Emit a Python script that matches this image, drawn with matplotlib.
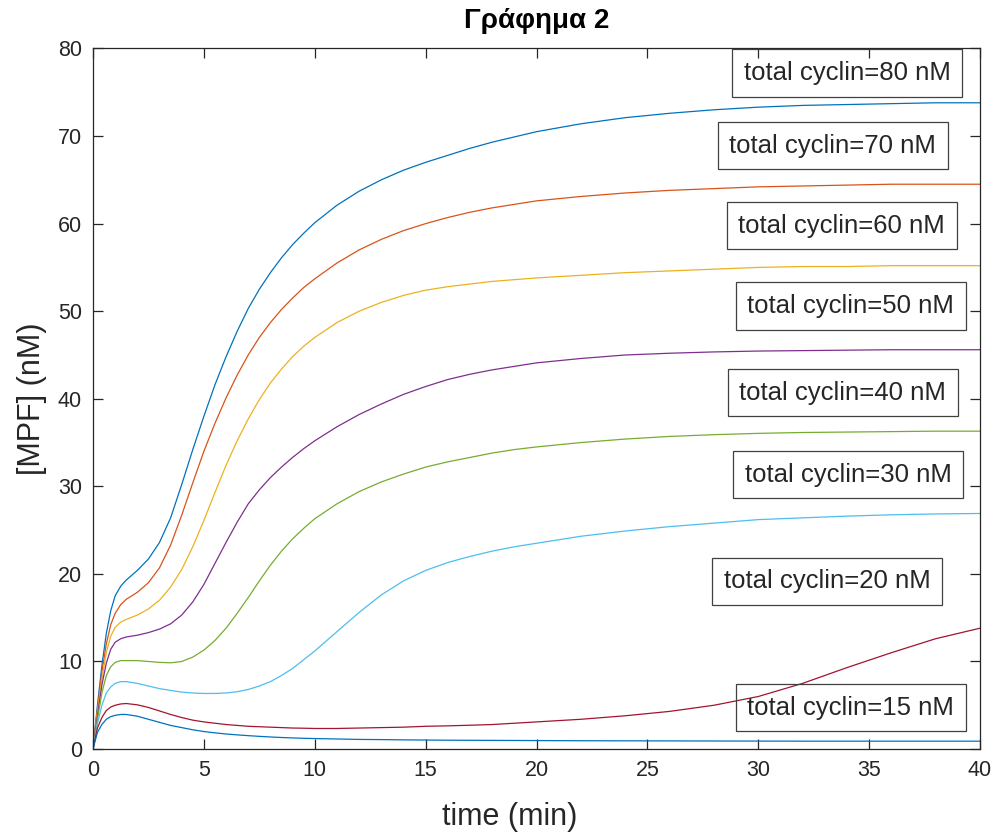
import numpy as np
import matplotlib
matplotlib.use('Agg')
import matplotlib.pyplot as plt

# time axis (min)
t = [0, 0.2, 0.4, 0.6, 0.8, 1.0, 1.25, 1.5, 2, 2.5, 3, 3.5, 4, 4.5, 5, 5.5, 6, 6.5, 7, 7.5,
     8, 8.5, 9, 9.5, 10, 11, 12, 13, 14, 15, 16, 17, 18, 19, 20,
     22, 24, 26, 28, 30, 32, 34, 36, 38, 40]

# [MPF] (nM) for each total cyclin level
mpf_80 = [0, 5.0, 9.5, 13.2, 15.8, 17.5, 18.6, 19.3, 20.4, 21.7, 23.6, 26.4, 30.2, 34.2, 38.0,
          41.6, 44.8, 47.7, 50.3, 52.5, 54.4, 56.1, 57.6, 58.9, 60.1,
          62.1, 63.7, 65.0, 66.1, 67.0, 67.8, 68.6, 69.3, 69.9, 70.5,
          71.4, 72.1, 72.6, 73.0, 73.3, 73.5, 73.6, 73.7, 73.8, 73.8]
mpf_70 = [0, 4.6, 8.8, 12.0, 14.2, 15.5, 16.5, 17.1, 17.9, 19.0, 20.7, 23.3, 26.7, 30.4, 34.0,
          37.2, 40.1, 42.7, 45.0, 47.0, 48.7, 50.2, 51.5, 52.7, 53.7,
          55.5, 57.0, 58.2, 59.2, 60.0, 60.7, 61.3, 61.8, 62.2, 62.6,
          63.1, 63.5, 63.8, 64.0, 64.2, 64.3, 64.4, 64.5, 64.5, 64.5]
mpf_60 = [0, 4.2, 8.0, 11.0, 12.9, 13.9, 14.5, 14.8, 15.3, 16.0, 17.0, 18.5, 20.5, 23.1, 26.1,
          29.3, 32.4, 35.2, 37.7, 39.9, 41.8, 43.4, 44.8, 46.0, 47.0,
          48.7, 50.0, 51.0, 51.8, 52.4, 52.8, 53.1, 53.4, 53.6, 53.8,
          54.1, 54.4, 54.6, 54.8, 55.0, 55.1, 55.1, 55.2, 55.2, 55.2]
mpf_50 = [0, 3.8, 7.3, 9.8, 11.4, 12.2, 12.6, 12.8, 13.0, 13.3, 13.7, 14.3, 15.3, 16.8, 18.8,
          21.2, 23.6, 25.9, 28.0, 29.6, 31.0, 32.2, 33.3, 34.3, 35.2,
          36.8, 38.2, 39.4, 40.5, 41.4, 42.2, 42.8, 43.3, 43.7, 44.1,
          44.6, 45.0, 45.2, 45.35, 45.45, 45.5, 45.55, 45.6, 45.6, 45.6]
mpf_40 = [0, 3.4, 6.4, 8.4, 9.4, 9.9, 10.1, 10.1, 10.1, 10.0, 9.9, 9.85, 10.0, 10.5, 11.3,
          12.4, 13.8, 15.5, 17.3, 19.2, 21.0, 22.6, 24.0, 25.2, 26.3,
          28.0, 29.4, 30.5, 31.4, 32.2, 32.8, 33.3, 33.8, 34.2, 34.5,
          35.0, 35.4, 35.7, 35.9, 36.05, 36.15, 36.2, 36.25, 36.3, 36.3]
mpf_30 = [0, 2.9, 5.0, 6.4, 7.1, 7.5, 7.7, 7.7, 7.5, 7.2, 6.9, 6.7, 6.5, 6.4, 6.35,
          6.35, 6.4, 6.55, 6.8, 7.2, 7.7, 8.4, 9.2, 10.2, 11.2,
          13.4, 15.6, 17.6, 19.2, 20.4, 21.3, 22.0, 22.6, 23.1, 23.5,
          24.3, 24.9, 25.4, 25.8, 26.2, 26.4, 26.6, 26.75, 26.85, 26.9]
mpf_20 = [0, 2.4, 3.6, 4.4, 4.8, 5.0, 5.15, 5.2, 5.05, 4.75, 4.35, 3.95, 3.6, 3.3, 3.1,
          2.95, 2.8, 2.7, 2.6, 2.55, 2.5, 2.45, 2.4, 2.38, 2.35,
          2.35, 2.4, 2.45, 2.5, 2.6, 2.65, 2.72, 2.8, 2.95, 3.1,
          3.4, 3.8, 4.3, 5.0, 6.0, 7.5, 9.3, 11.0, 12.6, 13.8]
mpf_15 = [0, 1.9, 2.8, 3.4, 3.7, 3.85, 3.95, 3.95, 3.75, 3.4, 3.05, 2.7, 2.45, 2.2, 2.0,
          1.85, 1.72, 1.62, 1.53, 1.45, 1.38, 1.32, 1.27, 1.23, 1.2,
          1.15, 1.1, 1.08, 1.05, 1.03, 1.01, 1.0, 0.99, 0.98, 0.97,
          0.95, 0.94, 0.93, 0.92, 0.91, 0.9, 0.9, 0.9, 0.9, 0.9]

curves = [mpf_80, mpf_70, mpf_60, mpf_50, mpf_40, mpf_30, mpf_20, mpf_15]
labels = ['total cyclin=80 nM', 'total cyclin=70 nM', 'total cyclin=60 nM',
          'total cyclin=50 nM', 'total cyclin=40 nM', 'total cyclin=30 nM',
          'total cyclin=20 nM', 'total cyclin=15 nM']

# where the text boxes sit (data coords: left edge / middle of the text)
label_x = [29.35, 28.7, 29.1, 29.5, 29.15, 29.4, 28.45, 29.5]
label_y = [77.2, 68.9, 59.75, 50.6, 40.7, 31.35, 19.15, 4.7]

colors = ['#0072BD', '#D95319', '#EDB120', '#7E2F8E', '#77AC30', '#4DBEEE', '#A2142F', '#0072BD']

plt.rcParams['font.family'] = ['Liberation Sans', 'DejaVu Sans']

fig = plt.figure(figsize=(10, 8.36), dpi=100)
ax = fig.add_axes([0.093, 0.104, 0.887, 0.838])

for y, c in zip(curves, colors):
    assert len(y) == len(t)
    ax.plot(t, y, color=c, linewidth=0.9)

for txt, x, y in zip(labels, label_x, label_y):
    ax.text(x, y, txt, fontsize=18.5, ha='left', va='center', color='#262626',
            bbox=dict(boxstyle='square,pad=0.45', facecolor='none', edgecolor='#404040', linewidth=0.9))

ax.set_xlim(0, 40)
ax.set_ylim(0, 80)
ax.set_xticks(np.arange(0, 41, 5))
ax.set_yticks(np.arange(0, 81, 10))
ax.tick_params(direction='in', length=7, width=0.9, top=True, right=True,
               labelsize=15.5, labelcolor='#262626', color='#262626', pad=8)
for s in ax.spines.values():
    s.set_color('#262626')
    s.set_linewidth(0.9)

ax.set_xlabel('time (min)', fontsize=22, color='#262626', labelpad=15)
ax.xaxis.label.set_x(0.47)
ax.set_ylabel('[MPF] (nM)', fontsize=22, color='#262626', labelpad=8)
ax.set_title('Γράφημα 2', fontsize=20, fontweight='bold', color='black', pad=15)

fig.savefig('out.png', dpi=100)
